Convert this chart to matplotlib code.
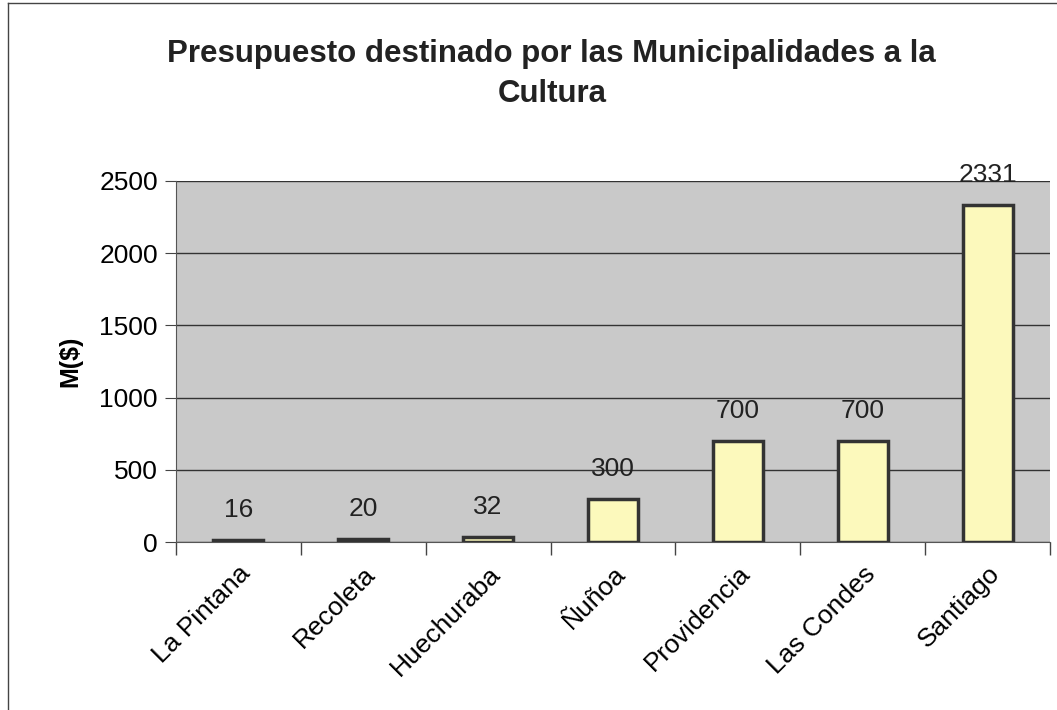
import numpy as np
import matplotlib.pyplot as plt
from matplotlib.lines import Line2D

plt.rcParams['font.family'] = ['Liberation Sans', 'DejaVu Sans']

comunas = ["La Pintana", "Recoleta", "Huechuraba", "Ñuñoa",
           "Providencia", "Las Condes", "Santiago"]
presupuesto = [16, 20, 32, 300, 700, 700, 2331]

fig = plt.figure(figsize=(10.57, 7.10), dpi=100)
ax = fig.add_axes([0.1665, 0.2366, 0.8269, 0.5085])

x = np.arange(len(comunas))
bars = ax.bar(x, presupuesto, width=0.4, color="#fcf9bc",
              edgecolor="#333333", linewidth=2.5, zorder=3)

for xi, v in zip(x, presupuesto):
    ax.annotate(str(v), (xi, v), xytext=(0, 13), textcoords="offset points",
                ha="center", va="bottom", fontsize=19, color="#222222")

ax.set_facecolor("#c9c9c9")
ax.set_xlim(-0.5, len(comunas) - 0.5)
ax.set_ylim(0, 2500)
ax.set_yticks(range(0, 2501, 500))
ax.yaxis.grid(True, color="#333333", linewidth=1, zorder=1)
ax.set_axisbelow(True)

ax.set_xticks(x)
ax.set_xticklabels(comunas, rotation=45, ha="right", rotation_mode="anchor",
                   fontsize=19)
ax.set_xticks(np.arange(-0.5, len(comunas)), minor=True)
ax.tick_params(axis="x", which="major", length=0, pad=14)
ax.tick_params(axis="x", which="minor", length=9, width=1, color="#444444")
ax.tick_params(axis="y", labelsize=19, length=8, color="#444444", pad=5)

for side in ["top", "right"]:
    ax.spines[side].set_visible(False)
ax.spines["left"].set_color("#555555")
ax.spines["bottom"].set_color("#555555")

ax.set_ylabel("M($)", fontsize=18, fontweight="bold", labelpad=12)

fig.suptitle("Presupuesto destinado por las Municipalidades a la\nCultura",
             fontsize=22.5, fontweight="bold", y=0.945, color="#222222",
             x=0.522, linespacing=1.45)

# chart frame as seen in the scan
fig.add_artist(Line2D([0.008, 0.008], [0.0, 0.996], color="#444444", lw=1))
fig.add_artist(Line2D([0.008, 1.0], [0.996, 0.996], color="#444444", lw=1))

fig.savefig("out.png", dpi=100)
